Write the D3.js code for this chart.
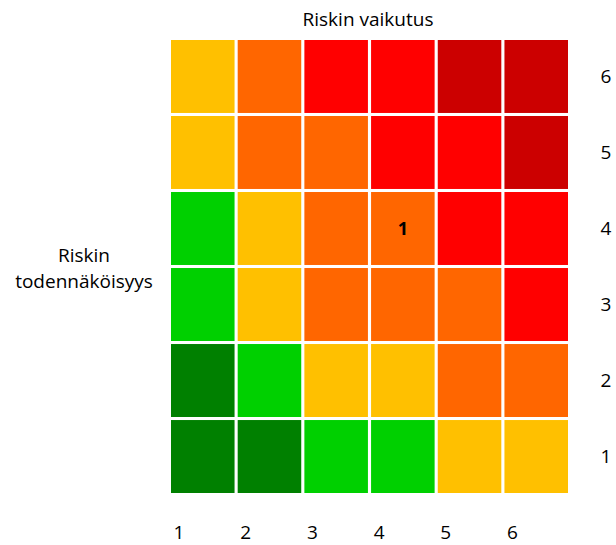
<!DOCTYPE html>
<html>
<head>
<meta charset="utf-8">
<script src="https://cdn.jsdelivr.net/npm/d3@7"></script>
<style>
  body { margin: 0; background: #fff; }
  text { font-family: "Open Sans", Lato, sans-serif; fill: #000; }
</style>
</head>
<body>
<div id="matrix"></div>
<script>
let impact = [1, 2, 3, 4, 5, 6] // Riskin vaikutus (columns)
let likelihood = [1, 2, 3, 4, 5, 6] // Riskin todennäköisyys (rows, bottom up)

// risk level of each cell, one array per likelihood row (1 at bottom)
let row1 = [0, 0, 1, 1, 2, 2]
let row2 = [0, 1, 2, 2, 3, 3]
let row3 = [1, 2, 3, 3, 3, 4]
let row4 = [1, 2, 3, 3, 4, 4]
let row5 = [2, 3, 3, 4, 4, 5]
let row6 = [2, 3, 4, 4, 5, 5]
let levels = [row1, row2, row3, row4, row5, row6]

let levelColors = ['#008000', '#00d000', '#ffc000', '#ff6600', '#ff0000', '#cc0000']

// risks placed in the matrix
let risks = [{ impact: 4, likelihood: 4, label: '1' }]

let width = 616,
  height = 545,
  margin = { top: 40, right: 48, bottom: 52, left: 171 },
  fontSize = '19px'

let x = d3.scaleBand()
  .domain(impact)
  .range([margin.left, width - margin.right])
  .paddingInner(0.047)

let y = d3.scaleBand()
  .domain(likelihood.slice().reverse())
  .range([margin.top, height - margin.bottom])
  .paddingInner(0.04)

let color = d3.scaleOrdinal()
  .domain(d3.range(levelColors.length))
  .range(levelColors)

let cells = []
levels.forEach((row, i) => {
  row.forEach((lvl, j) => {
    cells.push({ impact: impact[j], likelihood: likelihood[i], level: lvl })
  })
})

let svg = d3.select('#matrix').append('svg')
  .attr('width', width)
  .attr('height', height)

svg.append('g').selectAll('rect')
  .data(cells)
  .enter().append('rect')
  .attr('x', d => x(d.impact))
  .attr('y', d => y(d.likelihood))
  .attr('width', x.bandwidth())
  .attr('height', y.bandwidth())
  .attr('fill', d => color(d.level))

// risk markers
svg.append('g').selectAll('text')
  .data(risks)
  .enter().append('text')
  .attr('x', d => x(d.impact) + x.bandwidth() / 2)
  .attr('y', d => y(d.likelihood) + y.bandwidth() / 2)
  .attr('dy', '0.35em')
  .attr('text-anchor', 'middle')
  .attr('font-size', '18px')
  .attr('font-weight', 'bold')
  .text(d => d.label)

// bottom labels (impact)
svg.append('g').selectAll('text')
  .data(impact)
  .enter().append('text')
  .attr('x', d => x(d) + 8)
  .attr('y', 539)
  .attr('text-anchor', 'middle')
  .attr('font-size', fontSize)
  .text(d => d)

// right labels (likelihood)
svg.append('g').selectAll('text')
  .data(likelihood)
  .enter().append('text')
  .attr('x', 606)
  .attr('y', d => y(d) + y.bandwidth() / 2)
  .attr('dy', '0.35em')
  .attr('text-anchor', 'middle')
  .attr('font-size', fontSize)
  .text(d => d)

svg.append('text')
  .attr('x', 368)
  .attr('y', 26)
  .attr('text-anchor', 'middle')
  .attr('font-size', fontSize)
  .text('Riskin vaikutus')

let yTitle = svg.append('text')
  .attr('text-anchor', 'middle')
  .attr('font-size', fontSize)
yTitle.append('tspan').attr('x', 84).attr('y', 262).text('Riskin')
yTitle.append('tspan').attr('x', 84).attr('y', 288).text('todennäköisyys')
</script>
</body>
</html>
